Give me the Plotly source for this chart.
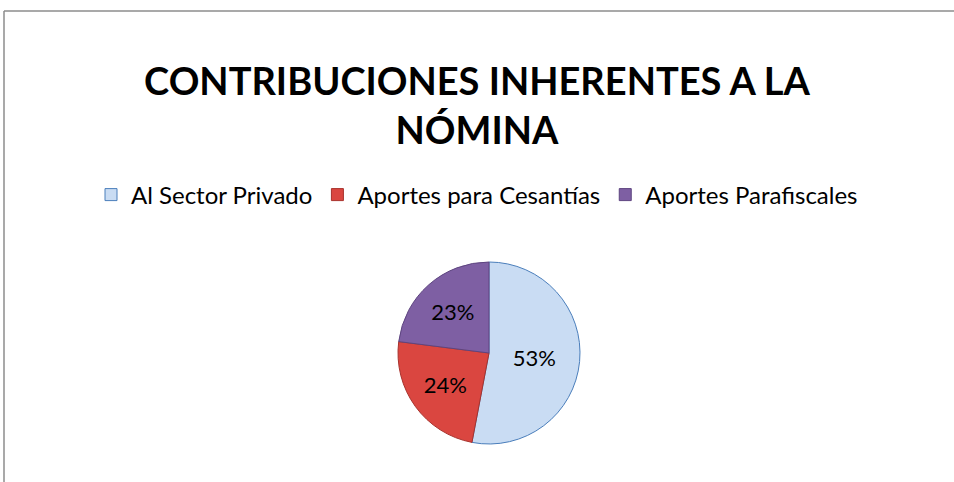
import plotly.graph_objects as go

categories = ["Al Sector Privado", "Aportes para Cesantías", "Aportes Parafiscales"]
values = [53, 24, 23]
colors = ["#C9DCF3", "#DA4640", "#7E5FA3"]
line_colors = ["#4A7EBB", "#A8322C", "#5E4580"]

W, H = 954, 482
cx, cy, r = 489, 353, 91

fig = go.Figure(go.Pie(
    labels=categories,
    values=values,
    sort=False,
    direction="clockwise",
    rotation=0,
    marker=dict(colors=colors, line=dict(color=line_colors, width=1)),
    texttemplate="%{percent:.0%}",
    textposition="inside",
    insidetextorientation="horizontal",
    textfont=dict(size=22, color="black", family="Lato"),
    hoverinfo="label+percent",
    domain=dict(x=[(cx - r) / W, (cx + r) / W], y=[1 - (cy + r) / H, 1 - (cy - r) / H]),
))

fig.update_layout(
    width=W, height=H,
    margin=dict(l=0, r=0, t=0, b=0),
    paper_bgcolor="white",
    font=dict(family="Lato", color="black"),
    title=dict(
        text="<b>CONTRIBUCIONES INHERENTES A LA<br>NÓMINA</b>",
        x=0.5, xanchor="center", y=1 - 95 / H, yanchor="middle",
        font=dict(size=38, family="Lato", color="black"),
    ),
    legend=dict(
        orientation="h", x=0.5, xanchor="center", y=1 - 195 / H, yanchor="middle",
        font=dict(size=24, family="Lato", color="black"),
        itemwidth=30,
    ),
    shapes=[
        dict(type="line", xref="paper", yref="paper", x0=4 / W, x1=1, y0=1 - 11 / H, y1=1 - 11 / H,
             line=dict(color="#8C8C8C", width=1.5)),
        dict(type="line", xref="paper", yref="paper", x0=4 / W, x1=4 / W, y0=1 - 11 / H, y1=0,
             line=dict(color="#8C8C8C", width=1.5)),
    ],
)

fig.write_html("out.html", config={"displayModeBar": False},
               post_script="document.body.style.margin='0';document.body.style.overflow='hidden';")
